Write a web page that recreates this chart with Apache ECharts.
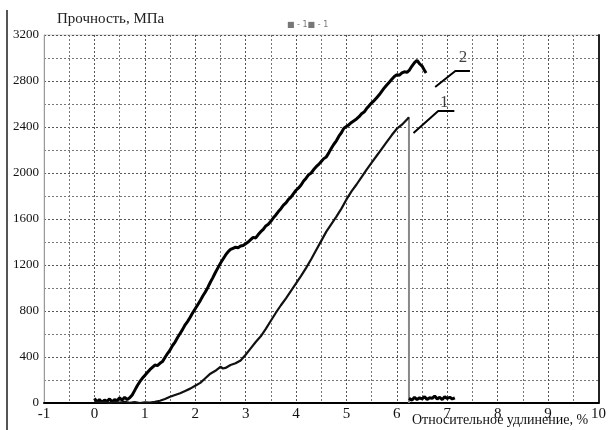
<!DOCTYPE html>
<html><head><meta charset="utf-8">
<script src="https://cdn.jsdelivr.net/npm/echarts@6/dist/echarts.min.js"></script>
<style>html,body{margin:0;padding:0;background:#fff}#c{width:609px;height:430px}</style>
</head><body><div id="c"></div>
<script>
// X tick labels (relative elongation, %) and Y ticks (strength, MPa)
var xTicks = [-1,0,1,2,3,4,5,6,7,8,9,10];
var yTicks = [0,400,800,1200,1600,2000,2400,2800,3200];

// Curve 2 (upper)
var strain2 = [0.00,0.05,0.10,0.15,0.20,0.25,0.30,0.35,0.40,0.45,0.50,0.55,0.60,0.65,0.70,
  0.75,0.80,0.85,0.90,0.95,1.00,1.05,1.10,1.15,1.20,1.25,1.30,1.35,1.40,1.45,1.50,1.55,1.60,1.65,1.70,1.75,1.80,1.85,1.90,1.95,
  2.00,2.05,2.10,2.15,2.20,2.25,2.30,2.35,2.40,2.45,2.50,2.55,2.60,2.65,2.70,2.75,2.80,2.85,2.90,2.95,
  3.00,3.05,3.10,3.15,3.20,3.25,3.30,3.35,3.40,3.45,3.50,3.55,3.60,3.65,3.70,3.75,3.80,3.85,3.90,3.95,
  4.00,4.05,4.10,4.15,4.20,4.25,4.30,4.35,4.40,4.45,4.50,4.55,4.60,4.65,4.70,4.75,4.80,4.85,4.90,4.95,
  5.00,5.05,5.10,5.15,5.20,5.25,5.30,5.35,5.40,5.45,5.50,5.55,5.60,5.65,5.70,5.75,5.80,5.85,5.90,5.95,
  6.00,6.05,6.10,6.15,6.20,6.25,6.30,6.35,6.40,6.45,6.50,6.55,6.58];
var stress2 = [40,10,30,5,25,15,35,10,30,20,45,25,50,30,45,
  70,110,150,185,215,240,265,290,310,330,325,345,360,395,430,460,500,530,570,605,640,680,710,745,785,
  820,855,890,930,965,1005,1050,1090,1135,1175,1215,1250,1285,1315,1335,1345,1355,1350,1365,1370,
  1385,1400,1420,1440,1435,1465,1490,1510,1540,1555,1580,1610,1635,1665,1690,1720,1740,1770,1790,1820,
  1850,1870,1895,1930,1955,1985,2000,2030,2055,2075,2100,2125,2140,2175,2215,2250,2280,2320,2350,2390,
  2405,2420,2440,2455,2470,2490,2515,2530,2560,2585,2610,2630,2655,2680,2710,2740,2765,2790,2815,2840,
  2855,2850,2870,2880,2875,2895,2930,2960,2980,2950,2930,2890,2870];

// Curve 1 (lower) up to fracture
var strain1 = [0.00,0.10,0.20,0.30,0.40,0.50,0.60,0.70,0.80,0.90,1.00,1.10,1.20,1.30,1.40,1.50,1.60,1.70,1.80,1.90,
  2.00,2.10,2.20,2.30,2.40,2.50,2.55,2.60,2.70,2.80,2.90,3.00,3.10,3.20,3.30,3.40,3.50,3.60,3.70,3.80,3.90,
  4.00,4.10,4.20,4.30,4.40,4.50,4.60,4.70,4.80,4.90,5.00,5.10,5.20,5.30,5.40,5.50,5.60,5.70,5.80,5.90,6.00,6.10,6.20,6.24];
var stress1 = [15,5,10,0,8,3,10,2,8,0,5,3,10,20,35,55,70,85,105,125,
  150,175,215,255,280,315,300,305,330,345,370,420,475,530,580,645,715,785,850,910,975,
  1040,1105,1175,1250,1330,1410,1490,1555,1620,1690,1770,1840,1900,1965,2030,2090,2150,2210,2270,2330,2385,2420,2465,2485];

// Curve 1 fracture drop and residual after fracture
var dropStrain = [6.24,6.24];
var dropStress = [2485,0];
var tailStrain = [6.24,6.30,6.35,6.40,6.45,6.50,6.55,6.60,6.65,6.70,6.75,6.80,6.85,6.90,6.95,7.00,7.05,7.10,7.15];
var tailStress = [40,25,50,30,45,35,55,30,45,40,60,35,50,30,55,40,50,35,45];

// Annotation leaders and labels
var lead2Strain = [6.76,7.16,7.45], lead2Stress = [2748,2887,2887];
var lead1Strain = [6.33,6.82,7.14], lead1Stress = [2348,2539,2539];
var curveLabels = ['2','1'];
var labelStrain = [7.31,6.94], labelStress = [3000,2617];

function zip(a,b){return a.map(function(v,i){return [v,b[i]];});}

var serif = 'Liberation Serif';
var chart = echarts.init(document.getElementById('c'));
chart.setOption({
  animation:false,
  backgroundColor:'#fff',
  grid:{left:44,right:4,top:35,bottom:27,show:true,borderColor:'#d0d0d0',borderWidth:1},
  xAxis:{type:'value',min:xTicks[0],max:xTicks[xTicks.length-1],interval:1,
    axisLine:{show:true,onZero:false,lineStyle:{color:'#000',width:2}},
    axisTick:{show:false},
    axisLabel:{color:'#111',fontFamily:serif,fontSize:15,margin:4,formatter:function(v){return String(v);}},
    splitLine:{show:true,lineStyle:{color:'#555',type:[2,2],width:1}},
    minorTick:{show:false,splitNumber:2},
    minorSplitLine:{show:true,lineStyle:{color:'#777',type:[2,2],width:1}}
  },
  yAxis:[{type:'value',min:yTicks[0],max:yTicks[yTicks.length-1],interval:400,
    axisLine:{show:true,onZero:false,lineStyle:{color:'#999',width:1}},
    axisTick:{show:false},
    axisLabel:{color:'#111',fontFamily:serif,fontSize:13,margin:5,formatter:function(v){return String(v);}},
    splitLine:{show:true,lineStyle:{color:'#555',type:[2,2],width:1}},
    minorTick:{show:false,splitNumber:2},
    minorSplitLine:{show:true,lineStyle:{color:'#777',type:[2,2],width:1}}
  },{type:'value',position:'right',min:0,max:3200,interval:400,
    axisLine:{show:true,onZero:false,lineStyle:{color:'#222',width:2}},
    axisTick:{show:false},axisLabel:{show:false},splitLine:{show:false}}],
  series:[
    {type:'line',data:zip(strain2,stress2),showSymbol:false,lineStyle:{color:'#000',width:3},z:5},
    {type:'line',data:zip(strain1,stress1),showSymbol:false,lineStyle:{color:'#111',width:2.2},z:5},
    {type:'line',data:zip(dropStrain,dropStress),showSymbol:false,lineStyle:{color:'#888',width:2},z:4},
    {type:'line',data:zip(tailStrain,tailStress),showSymbol:false,lineStyle:{color:'#000',width:3},z:5},
    {type:'line',data:zip(lead2Strain,lead2Stress),showSymbol:false,lineStyle:{color:'#000',width:2}},
    {type:'line',data:zip(lead1Strain,lead1Stress),showSymbol:false,lineStyle:{color:'#000',width:2}},
    {type:'scatter',data:zip(labelStrain,labelStress).map(function(p,i){return {value:p,name:curveLabels[i]};}),
      symbolSize:0,label:{show:true,position:'inside',formatter:'{b}',fontFamily:serif,fontSize:17,color:'#111'}}
  ],
  graphic:[
    {type:'line',shape:{x1:7,y1:10,x2:7,y2:430},style:{stroke:'#555',lineWidth:2}},
    {type:'text',left:57,top:12,style:{text:'Прочность, МПа',font:'15px "Liberation Serif"',fill:'#222'}},
    {type:'text',left:287,top:21,style:{text:'■ - 1■ - 1',font:'8px "DejaVu Sans"',fill:'#777'}},
    {type:'text',left:412,top:413,style:{text:'Относительное удлинение, %',font:'14px "Liberation Serif"',fill:'#111'}}
  ]
});
</script></body></html>
